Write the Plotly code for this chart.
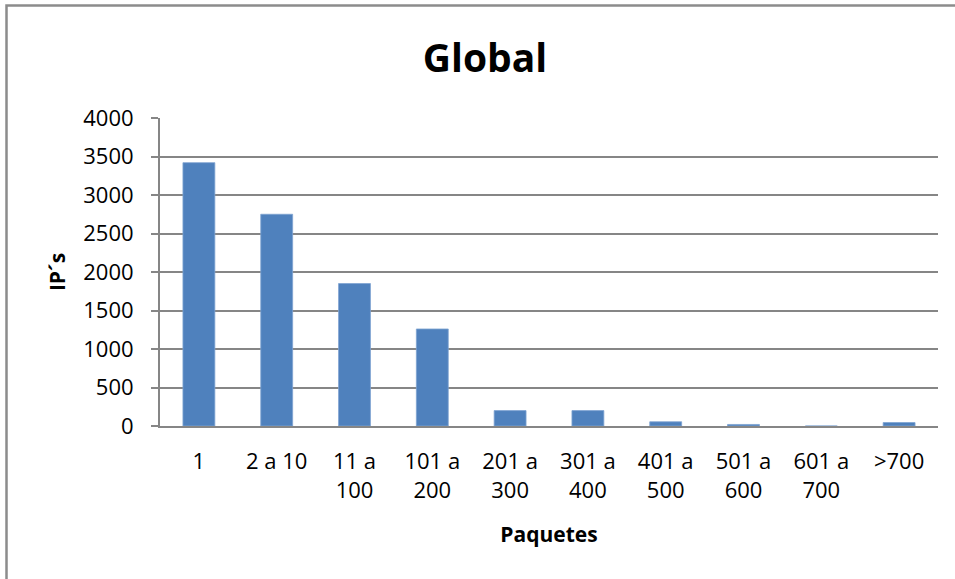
import plotly.graph_objects as go

# Number of IPs grouped by packet count range
categories = ["1", "2 a 10", "11 a 100", "101 a 200", "201 a 300",
              "301 a 400", "401 a 500", "501 a 600", "601 a 700", ">700"]
tick_labels = ["1", "2 a 10", "11 a<br>100", "101 a<br>200", "201 a<br>300",
               "301 a<br>400", "401 a<br>500", "501 a<br>600", "601 a<br>700", ">700"]
ips = [3420, 2750, 1850, 1260, 200, 200, 55, 20, 0, 45]
y_ticks = [0, 500, 1000, 1500, 2000, 2500, 3000, 3500, 4000]

FONT = "Open Sans"
GRID = "#868686"

fig = go.Figure(
    go.Bar(
        x=categories,
        y=ips,
        marker=dict(color="#4F81BD", line=dict(color="#7FA3D2", width=0.8)),
        hoverinfo="x+y",
    )
)

fig.update_layout(
    width=955,
    height=579,
    margin=dict(l=160, r=17, t=118, b=153),
    paper_bgcolor="white",
    plot_bgcolor="white",
    bargap=0.59,
    showlegend=False,
    font=dict(family=FONT, size=22, color="black"),
    title=dict(
        text="<b>Global</b>",
        font=dict(family=FONT, size=39, color="black"),
        x=485 / 955,
        xanchor="center",
        y=1 - 58 / 579,
        yanchor="middle",
    ),
    xaxis=dict(
        type="category",
        tickmode="array",
        tickvals=categories,
        ticktext=tick_labels,
        showline=True,
        linecolor=GRID,
        linewidth=2,
        ticks="",
        showgrid=False,
        tickfont=dict(family=FONT, size=22),
        ticklabelstandoff=15,
        title=dict(text="<b>Paquetes</b>", font=dict(family=FONT, size=21), standoff=24),
    ),
    yaxis=dict(
        range=[0, 4000],
        tickmode="array",
        tickvals=y_ticks,
        showline=True,
        linecolor=GRID,
        linewidth=2,
        ticks="outside",
        ticklen=7,
        tickwidth=1.5,
        tickcolor=GRID,
        showgrid=True,
        gridcolor=GRID,
        gridwidth=1.5,
        zeroline=False,
        tickfont=dict(family=FONT, size=22),
        ticklabelstandoff=13,
        title=dict(text="<b>IP´s</b>", font=dict(family=FONT, size=21), standoff=12),
    ),
    shapes=[
        # chart frame (right and bottom edges fall outside the page)
        dict(
            type="rect",
            xref="paper", yref="paper",
            x0=(6.5 - 160) / 778, x1=1.1,
            y0=-0.6, y1=(426 - 5.5) / 308,
            line=dict(color="#8C8C8C", width=2.5),
            fillcolor="rgba(0,0,0,0)",
            layer="below",
        )
    ],
)

fig.write_html("out.html")
